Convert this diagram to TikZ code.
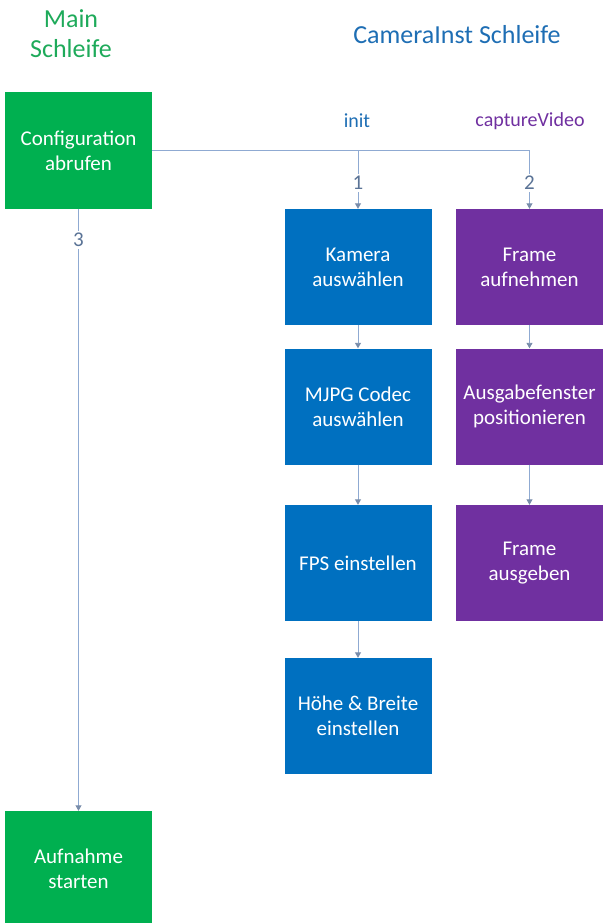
\documentclass[tikz,border=0pt]{standalone}
\usepackage{fontspec}
\setmainfont{Carlito}
\usetikzlibrary{arrows.meta}
\definecolor{mgreen}{RGB}{0,176,80}
\definecolor{tgreen}{RGB}{30,170,90}
\definecolor{mblue}{RGB}{0,112,192}
\definecolor{tblue}{RGB}{30,110,180}
\definecolor{mpurple}{RGB}{112,48,160}
\definecolor{lnc}{RGB}{143,170,210}
\definecolor{arc}{RGB}{120,140,170}
\definecolor{digc}{RGB}{90,115,150}
\tikzset{
  box/.style={minimum width=147pt, minimum height=116pt, inner sep=0pt, align=center,
    text=white, font=\fontsize{21}{25}\selectfont},
  gbox/.style={box, fill=mgreen},
  bbox/.style={box, fill=mblue},
  pbox/.style={box, fill=mpurple},
  conn/.style={draw=lnc, line width=0.9pt, -{Triangle[width=6pt,length=5.5pt,color=arc]}},
  plain/.style={draw=lnc, line width=0.9pt},
  lbl/.style={fill=white, inner sep=2pt, text=digc, font=\fontsize{21}{25}\selectfont},
  ttl/.style={inner sep=0pt, align=center, font=\fontsize{26}{30}\selectfont},
  sub/.style={inner sep=0pt, font=\fontsize{20}{24}\selectfont}
}
\begin{document}
\begin{tikzpicture}[x=1pt,y=-1pt]
\useasboundingbox (0,0) rectangle (613,923);
\clip (0,0) rectangle (613,923);
% titles
\node[ttl, text=tgreen] (tmain) at (71,34) {Main\\Schleife};
\node[ttl, text=tblue] (tcam) at (457,35) {CameraInst Schleife};
\node[sub, text=tblue] (tinit) at (357,121) {init};
\node[sub, text=mpurple] (tcap) at (530,121) {captureVideo};
% boxes
\node[gbox] (cfg) at (78.5,150.5) {Configuration\\abrufen};
\node[gbox] (auf) at (78.5,869) {Aufnahme\\starten};
\node[bbox] (kam) at (358,267) {Kamera\\auswählen};
\node[bbox] (mjpg) at (358,406.5) {MJPG Codec\\auswählen};
\node[bbox] (fps) at (358,563) {FPS einstellen};
\node[bbox] (hoe) at (358,716) {Höhe \& Breite\\einstellen};
\node[pbox] (fa) at (529.5,267) {Frame\\aufnehmen};
\node[pbox] (ag) at (529.5,406.5) {Ausgabefenster\\positionieren};
\node[pbox] (fg) at (529.5,563) {Frame\\ausgeben};
% junctions
\coordinate (j1) at (kam.north |- cfg.east);
\coordinate (j2) at (fa.north |- cfg.east);
% connectors
\draw[plain] (cfg.east) -- (j2);
\draw[conn] (j1) -- node[lbl, pos=0.56] (n1) {1} (kam.north);
\draw[conn] (j2) -- node[lbl, pos=0.56] (n2) {2} (fa.north);
\draw[conn] (cfg.south) -- node[lbl, pos=0.052] (n3) {3} (auf.north);
\draw[conn] (kam.south) -- (mjpg.north);
\draw[conn] (mjpg.south) -- (fps.north);
\draw[conn] (fps.south) -- (hoe.north);
\draw[conn] (fa.south) -- (ag.north);
\draw[conn] (ag.south) -- (fg.north);
\end{tikzpicture}
\end{document}
